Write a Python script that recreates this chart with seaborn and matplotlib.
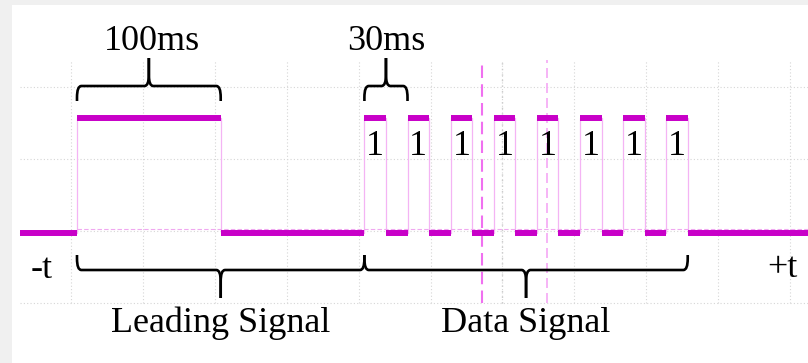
import numpy as np
import pandas as pd
import matplotlib
matplotlib.use("Agg")
import matplotlib.pyplot as plt
from matplotlib.path import Path
from matplotlib.patches import PathPatch, Rectangle
import seaborn as sns

# ---------------- data (time in ms, level 0 = low, 1 = high) ----------------
edge_ms = [-40, 0, 100, 200, 215, 230, 245, 260, 275, 290, 305, 320, 335,
           350, 365, 380, 395, 410, 425, 509]
level = [0, 1, 0, 1, 0, 1, 0, 1, 0, 1, 0, 1, 0, 1, 0, 1, 0, 1, 0]

bit_center_ms = [207.5, 237.5, 267.5, 297.5, 327.5, 357.5, 387.5, 417.5]
bit_labels = ["1", "1", "1", "1", "1", "1", "1", "1"]

top_brace_start = [0, 200]
top_brace_end = [100, 230]
top_brace_text = ["100ms", "30ms"]

bottom_brace_start = [0, 200]
bottom_brace_end = [200, 425]
bottom_brace_text = ["Leading Signal", "Data Signal"]

cursor_ms = [282, 327]
grid_x_ms = [-4, 46, 96, 146, 196, 246, 296, 346, 396, 446, 496]
grid_y_lvl = [1.27, 0.643, 0.017, -0.609]

# ---------------- figure ----------------
sns.set_theme(style="white")
plt.rcParams["font.family"] = ["Liberation Serif", "DejaVu Serif"]

W, H = 808, 363
fig = plt.figure(figsize=(W / 100, H / 100), dpi=100)
fig.patch.set_facecolor("#f0f0f0")
fig.patches.append(Rectangle((12 / W, 0), 1 - 12 / W, (H - 5) / H,
                             transform=fig.transFigure, facecolor="white",
                             edgecolor="none", zorder=-10))

ax = fig.add_axes([0, 0, 1, 1])
ax.set_facecolor("none")
px_ms = 1.437
px_lvl = 115.0
x0_px, y0_px = 77, 233

grid_top = (y0_px - 60) / px_lvl
grid_bot = (y0_px - 303) / px_lvl
grid_left = (20 - x0_px) / px_ms
grid_right = (W - x0_px) / px_ms

# grid
ax.vlines(grid_x_ms, grid_bot, grid_top, color="#d6d6d6", lw=0.8,
          linestyles=(0, (1, 2)), zorder=1)
ax.hlines(grid_y_lvl, grid_left, grid_right, color="#d6d6d6", lw=0.8,
          linestyles=(0, (1, 2)), zorder=1)
# centre axis of scope
ax.vlines([296], grid_bot, grid_top, color="#cccccc", lw=1.0,
          linestyles=(0, (1, 3)), zorder=1)

# cursors
ax.vlines([cursor_ms[0]], grid_bot, grid_top, color="#f070f0", lw=1.5,
          linestyles=(0, (6, 3)), zorder=2)
ax.vlines([cursor_ms[1]], grid_bot, grid_top, color="#f5a8f5", lw=1.2,
          linestyles=(0, (6, 3)), zorder=2)

# thin trace (step) via seaborn
step_df = pd.DataFrame({"t": edge_ms, "v": level + [level[-1]]})
sns.lineplot(data=step_df, x="t", y="v", drawstyle="steps-post",
             color="#f4b4f4", lw=0.9, ax=ax, estimator=None, sort=False,
             zorder=3)
ax.set_xlim(-x0_px / px_ms, (W - x0_px) / px_ms)
ax.set_ylim(-(H - y0_px) / px_lvl, y0_px / px_lvl)
ax.axis("off")
# thin dashed baseline
ax.hlines([0.035], 0, grid_right, color="#f0a8f0", lw=0.8,
          linestyles=(0, (4, 2)), zorder=3)

# thick level bars
ax.hlines(level, edge_ms[:-1], edge_ms[1:], color="#c800c8", lw=4.3,
          zorder=4)

# "1" labels
for xc, lab in zip(bit_center_ms, bit_labels):
    ax.text(xc, 0.678, lab, ha="center", va="baseline", fontsize=26,
            color="black", zorder=5)


def brace(x0, x1, y_tip, y_bar, y_cusp):
    rx = 3.0
    sgn = 1 if y_cusp > y_bar else -1
    ry = 0.10 * sgn
    xm = 0.5 * (x0 + x1)
    verts = [(x0, y_tip), (x0, y_bar - ry), (x0, y_bar), (x0 + rx, y_bar),
             (xm - rx, y_bar), (xm, y_bar), (xm, y_bar + ry), (xm, y_cusp)]
    codes = [Path.MOVETO, Path.LINETO, Path.CURVE3, Path.CURVE3,
             Path.LINETO, Path.CURVE3, Path.CURVE3, Path.LINETO]
    verts2 = [(x1, y_tip), (x1, y_bar - ry), (x1, y_bar), (x1 - rx, y_bar),
              (xm + rx, y_bar), (xm, y_bar), (xm, y_bar + ry), (xm, y_cusp)]
    for v in (verts, verts2):
        ax.add_patch(PathPatch(Path(v, codes), facecolor="none",
                               edgecolor="black", lw=1.9, zorder=5,
                               capstyle="butt", joinstyle="round"))


def lv(ypx):
    return (y0_px - ypx) / px_lvl


# top braces
for s, e, t in zip(top_brace_start, top_brace_end, top_brace_text):
    brace(s, e, lv(101), lv(86), lv(58))
    xm = 0.5 * (s + e)
    ax.text(xm + (2 if len(t) > 4 else 0), lv(50), t, ha="center",
            va="baseline", fontsize=26, color="black")

# bottom braces
for s, e, t in zip(bottom_brace_start, bottom_brace_end, bottom_brace_text):
    brace(s, e, lv(255), lv(270), lv(298))
    xm = 0.5 * (s + e)
    ax.text(xm, lv(332), t, ha="center", va="baseline", fontsize=26,
            color="black")

ax.text((42 - x0_px) / px_ms, lv(278), "-t", ha="center", va="baseline",
        fontsize=26, color="black")
ax.text((782 - x0_px) / px_ms, lv(277), "+t", ha="center", va="baseline",
        fontsize=26, color="black")

fig.savefig("out.png", dpi=100, facecolor=fig.get_facecolor())
